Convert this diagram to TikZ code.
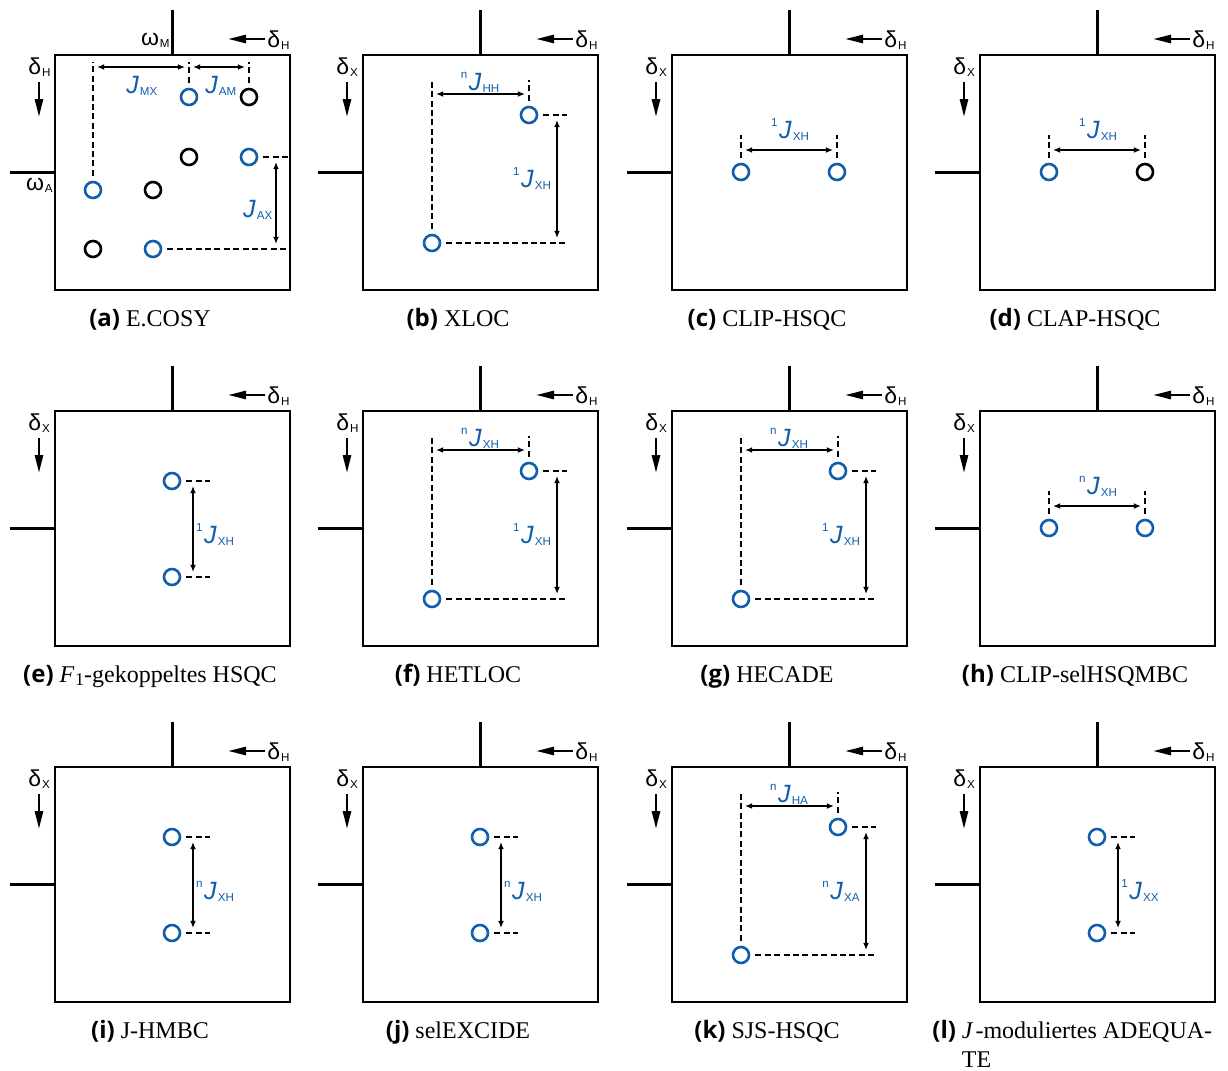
\documentclass[tikz,border=0pt]{standalone}
\usepackage{fontspec}
\setmainfont{Liberation Serif}
\newfontfamily\lblfont{Liberation Sans}
\newfontfamily\capfont{Open Sans}
\usetikzlibrary{arrows.meta}
\definecolor{nmrblue}{RGB}{16,94,172}

% small upright sub-/superscripts used in the spectrum labels
\newcommand{\smallidx}[1]{{\fontsize{5.8}{5.8}\selectfont #1}}
\newcommand{\axlab}[2]{#1\kern0.4pt\raisebox{-1.3pt}{\smallidx{#2}}}
\newcommand{\jcoup}[2]{\raisebox{6pt}{\smallidx{#1}}\kern0.8pt{\itshape J}\kern0.6pt\raisebox{-1.2pt}{\smallidx{#2}}}
\newcommand{\capl}[1]{{\capfont\bfseries #1}}

\tikzset{
  frm/.style={draw, line width=1.35pt, minimum width=117.5pt, minimum height=117.5pt, inner sep=0pt},
  tick/.style={line width=1.35pt},
  dsh/.style={line width=1.3pt, dash pattern=on 3pt off 1.7pt, shorten <=2.5pt},
  jarr/.style={line width=0.8pt, {Latex[length=3.6pt,width=3pt]}-{Latex[length=3.6pt,width=3pt]}},
  darr/.style={line width=1.3pt, -{Triangle[length=9pt,width=4pt]}},
  pk/.style={circle, line width=1.3pt, minimum size=8pt, inner sep=0pt},
  pkb/.style={pk, draw=nmrblue},
  pkk/.style={pk, draw=black},
  glab/.style={font=\lblfont\fontsize{11.5}{11.5}\selectfont, inner sep=0pt},
  jlab/.style={font=\lblfont\fontsize{12.5}{12.5}\selectfont, text=nmrblue, inner sep=0pt, anchor=base},
  captxt/.style={font=\fontsize{12}{14.5}\selectfont, inner sep=0pt},
}

% frame, axis ticks and chemical-shift directions of one spectrum
% #1 name prefix, #2/#3 top-left corner of the box, #4 index of the vertical shift axis
\newcommand{\pframe}[4]{%
  \begin{scope}[shift={(#2,#3)}]
    \node[frm] (#1-box) at (117.5,117.5) {};
    \coordinate (#1-top) at (117.5,-45);
    \coordinate (#1-lft) at (-45,117.5);
    \draw[tick] (#1-box.north) -- (#1-top);
    \draw[tick] (#1-box.west) -- (#1-lft);
    \coordinate (#1-hs) at (210,-16);
    \coordinate (#1-he) at (173,-16);
    \draw[darr] (#1-hs) -- (#1-he);
    \node[glab, anchor=base west] (#1-dh) at (212,-8) {\axlab{δ}{H}};
    \coordinate (#1-vs) at (-16,27);
    \coordinate (#1-ve) at (-16,62);
    \draw[darr] (#1-vs) -- (#1-ve);
    \node[glab, anchor=base west] (#1-dv) at (-27,19) {\axlab{δ}{#4}};
  \end{scope}}

% two cross peaks on a diagonal with both couplings marked
\newcommand{\prect}[5]{%
  \begin{scope}[shift={(#2,#3)}]
    \node[pkb] (#1-p) at (166,60) {};
    \node[pkb] (#1-q) at (69,188) {};
    \coordinate (#1-qt) at (69,25);
    \coordinate (#1-pt) at (166,25);
    \coordinate (#1-pr) at (204,60);
    \coordinate (#1-qr) at (204,188);
    \draw[dsh] (#1-q) -- (#1-qt);
    \draw[dsh] (#1-p) -- (#1-pt);
    \draw[dsh] (#1-p) -- (#1-pr);
    \draw[dsh] (#1-q) -- (#1-qr);
    \coordinate (#1-ha) at (69,39);
    \coordinate (#1-hb) at (166,39);
    \draw[jarr, shorten <=2pt, shorten >=2pt] (#1-ha) -- (#1-hb);
    \coordinate (#1-va) at (194,60);
    \coordinate (#1-vb) at (194,188);
    \draw[jarr, shorten <=2.5pt, shorten >=2.5pt] (#1-va) -- (#1-vb);
    \node[jlab] (#1-lh) at (117,35) {#4};
    \node[jlab] (#1-lv) at (169,132) {#5};
  \end{scope}}

% horizontal doublet; #4 style of the right peak, #5 label
\newcommand{\phpair}[5]{%
  \begin{scope}[shift={(#2,#3)}]
    \node[pkb] (#1-l) at (69,117) {};
    \node[#4] (#1-r) at (165,117) {};
    \coordinate (#1-lt) at (69,80);
    \coordinate (#1-rt) at (165,80);
    \draw[dsh] (#1-l) -- (#1-lt);
    \draw[dsh] (#1-r) -- (#1-rt);
    \coordinate (#1-ha) at (69,95);
    \coordinate (#1-hb) at (165,95);
    \draw[jarr, shorten <=2pt, shorten >=2pt] (#1-ha) -- (#1-hb);
    \node[jlab] (#1-lb) at (118,83) {#5};
  \end{scope}}

% vertical doublet; #4 label
\newcommand{\pvpair}[4]{%
  \begin{scope}[shift={(#2,#3)}]
    \node[pkb] (#1-u) at (117,70) {};
    \node[pkb] (#1-d) at (117,166) {};
    \coordinate (#1-ur) at (155,70);
    \coordinate (#1-dr) at (155,166);
    \draw[dsh] (#1-u) -- (#1-ur);
    \draw[dsh] (#1-d) -- (#1-dr);
    \coordinate (#1-va) at (138,70);
    \coordinate (#1-vb) at (138,166);
    \draw[jarr, shorten <=2.5pt, shorten >=2.5pt] (#1-va) -- (#1-vb);
    \node[jlab] (#1-lb) at (160,132) {#4};
  \end{scope}}

\begin{document}
\begin{tikzpicture}[x=0.5pt, y=-0.5pt]
  \useasboundingbox (0,0) rectangle (1228,1071);

  % ---------- (a) E.COSY ----------
  \pframe{a}{55}{55}{H}
  \begin{scope}[shift={(55,55)}]
    \node[glab, anchor=base east] (a-wm) at (115,-10) {\axlab{ω}{M}};
    \node[glab, anchor=base east] (a-wa) at (-2,135) {\axlab{ω}{A}};
    \node[pkb] (a-b1) at (134,42) {};
    \node[pkk] (a-k1) at (194,42) {};
    \node[pkk] (a-k2) at (134,102) {};
    \node[pkb] (a-b2) at (194,102) {};
    \node[pkb] (a-b3) at (38,135) {};
    \node[pkk] (a-k3) at (98,135) {};
    \node[pkk] (a-k4) at (38,194) {};
    \node[pkb] (a-b4) at (98,194) {};
    \coordinate (a-t3) at (38,7);
    \coordinate (a-t1) at (134,7);
    \coordinate (a-tk) at (194,7);
    \coordinate (a-r2) at (233,102);
    \coordinate (a-r4) at (233,194);
    \draw[dsh] (a-b3) -- (a-t3);
    \draw[dsh] (a-b1) -- (a-t1);
    \draw[dsh] (a-k1) -- (a-tk);
    \draw[dsh] (a-b2) -- (a-r2);
    \draw[dsh] (a-b4) -- (a-r4);
    \coordinate (a-m1) at (38,12);
    \coordinate (a-m2) at (134,12);
    \coordinate (a-m3) at (194,12);
    \draw[jarr, shorten <=2pt, shorten >=2pt] (a-m1) -- (a-m2);
    \draw[jarr, shorten <=2pt, shorten >=2pt] (a-m2) -- (a-m3);
    \coordinate (a-x1) at (221,102);
    \coordinate (a-x2) at (221,194);
    \draw[jarr, shorten <=2.5pt, shorten >=2.5pt] (a-x1) -- (a-x2);
    \node[jlab] (a-lmx) at (86,38) {\jcoup{}{MX}};
    \node[jlab] (a-lam) at (165,38) {\jcoup{}{AM}};
    \node[jlab] (a-lax) at (202,162) {\jcoup{}{AX}};
  \end{scope}

  % ---------- row 1 ----------
  \pframe{b}{363}{55}{X}
  \prect{b}{363}{55}{\jcoup{n}{HH}}{\jcoup{1}{XH}}
  \pframe{c}{672}{55}{X}
  \phpair{c}{672}{55}{pkb}{\jcoup{1}{XH}}
  \pframe{d}{980}{55}{X}
  \phpair{d}{980}{55}{pkk}{\jcoup{1}{XH}}

  % ---------- row 2 ----------
  \pframe{e}{55}{411}{X}
  \pvpair{e}{55}{411}{\jcoup{1}{XH}}
  \pframe{f}{363}{411}{H}
  \prect{f}{363}{411}{\jcoup{n}{XH}}{\jcoup{1}{XH}}
  \pframe{g}{672}{411}{X}
  \prect{g}{672}{411}{\jcoup{n}{XH}}{\jcoup{1}{XH}}
  \pframe{h}{980}{411}{X}
  \phpair{h}{980}{411}{pkb}{\jcoup{n}{XH}}

  % ---------- row 3 ----------
  \pframe{i}{55}{767}{X}
  \pvpair{i}{55}{767}{\jcoup{n}{XH}}
  \pframe{j}{363}{767}{X}
  \pvpair{j}{363}{767}{\jcoup{n}{XH}}
  \pframe{k}{672}{767}{X}
  \prect{k}{672}{767}{\jcoup{n}{HA}}{\jcoup{n}{XA}}
  \pframe{l}{980}{767}{X}
  \pvpair{l}{980}{767}{\jcoup{1}{XX}}

  % ---------- captions ----------
  \node[captxt, anchor=base] (cap-a) at (150,326) {\capl{(a)} E.COSY};
  \node[captxt, anchor=base] (cap-b) at (458,326) {\capl{(b)} XLOC};
  \node[captxt, anchor=base] (cap-c) at (767,326) {\capl{(c)} CLIP-HSQC};
  \node[captxt, anchor=base] (cap-d) at (1075,326) {\capl{(d)} CLAP-HSQC};
  \node[captxt, anchor=base] (cap-e) at (150,682) {\capl{(e)} \textit{F}\kern0.3pt\raisebox{-1.5pt}{\small 1}-gekoppeltes HSQC};
  \node[captxt, anchor=base] (cap-f) at (458,682) {\capl{(f)} HETLOC};
  \node[captxt, anchor=base] (cap-g) at (767,682) {\capl{(g)} HECADE};
  \node[captxt, anchor=base] (cap-h) at (1075,682) {\capl{(h)} CLIP-selHSQMBC};
  \node[captxt, anchor=base] (cap-i) at (150,1038) {\capl{(i)} J-HMBC};
  \node[captxt, anchor=base] (cap-j) at (458,1038) {\capl{(j)} selEXCIDE};
  \node[captxt, anchor=base] (cap-k) at (767,1038) {\capl{(k)} SJS-HSQC};
  % two-line caption: its base anchor sits on the last line
  \node[captxt, anchor=base west, align=left] (cap-l) at (932,1067)
    {\capl{(l)} \textit{J}\kern1pt-moduliertes ADEQUA-\\\phantom{\capl{(l)} }TE};
\end{tikzpicture}
\end{document}
